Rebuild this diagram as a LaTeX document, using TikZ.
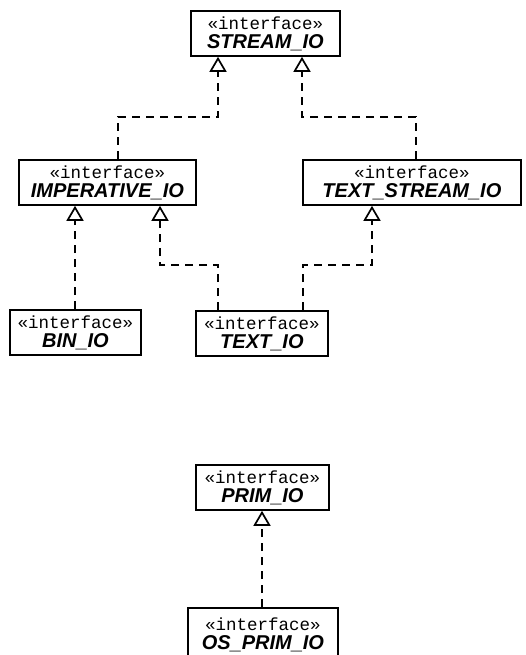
\documentclass[tikz,border=0pt]{standalone}
\usepackage{fontspec}
\usetikzlibrary{arrows.meta}
\newfontfamily\stereofont{Liberation Mono}
\newfontfamily\namefont{Liberation Sans}
\newcommand\stereo{{\stereofont\fontsize{17.5}{19}\selectfont «interface»}}
\newcommand\cname[1]{{\namefont\bfseries\itshape\fontsize{20}{19}\selectfont #1}}
\tikzset{
  iface/.style={draw,line width=1.8pt,fill=white,inner sep=0pt,align=center,
    minimum height=45pt,anchor=north west,font=\fontsize{18}{19}\selectfont},
  realize/.style={line width=1.9pt,dash pattern=on 8pt off 6pt,
    -{Triangle[open,width=17pt,length=15pt,line width=1.7pt]}}
}
\begin{document}
\begin{tikzpicture}[x=1pt,y=-1pt]
  \useasboundingbox (0,0) rectangle (525,655);
  \clip (0,0) rectangle (525,655);

  \node[iface,minimum width=149pt] (stream)     at (190,10)  {\stereo\\\cname{STREAM\_IO}};
  \node[iface,minimum width=177pt] (imperative) at (18,159)  {\stereo\\\cname{IMPERATIVE\_IO}};
  \node[iface,minimum width=218pt] (textstream) at (302,159) {\stereo\\\cname{TEXT\_STREAM\_IO}};
  \node[iface,minimum width=131pt] (bin)        at (9,309)   {\stereo\\\cname{BIN\_IO}};
  \node[iface,minimum width=132pt] (text)       at (195,310) {\stereo\\\cname{TEXT\_IO}};
  \node[iface,minimum width=133pt] (prim)       at (195,464) {\stereo\\\cname{PRIM\_IO}};
  \node[iface,minimum width=150pt,minimum height=54pt] (osprim) at (187,607) {\stereo\\\cname{OS\_PRIM\_IO}};

  % realizations
  \draw[realize] (118,0 |- imperative.north) |- (218,117) -- (218,0 |- stream.south);
  \draw[realize] (416,0 |- textstream.north) |- (302,117) -- (302,0 |- stream.south);
  \draw[realize] (75,0 |- bin.north) -- (75,0 |- imperative.south);
  \draw[realize] (218,0 |- text.north) |- (160,265) -- (160,0 |- imperative.south);
  \draw[realize] (303,0 |- text.north) |- (372,265) -- (372,0 |- textstream.south);
  \draw[realize] (262,0 |- osprim.north) -- (262,0 |- prim.south);
\end{tikzpicture}
\end{document}
